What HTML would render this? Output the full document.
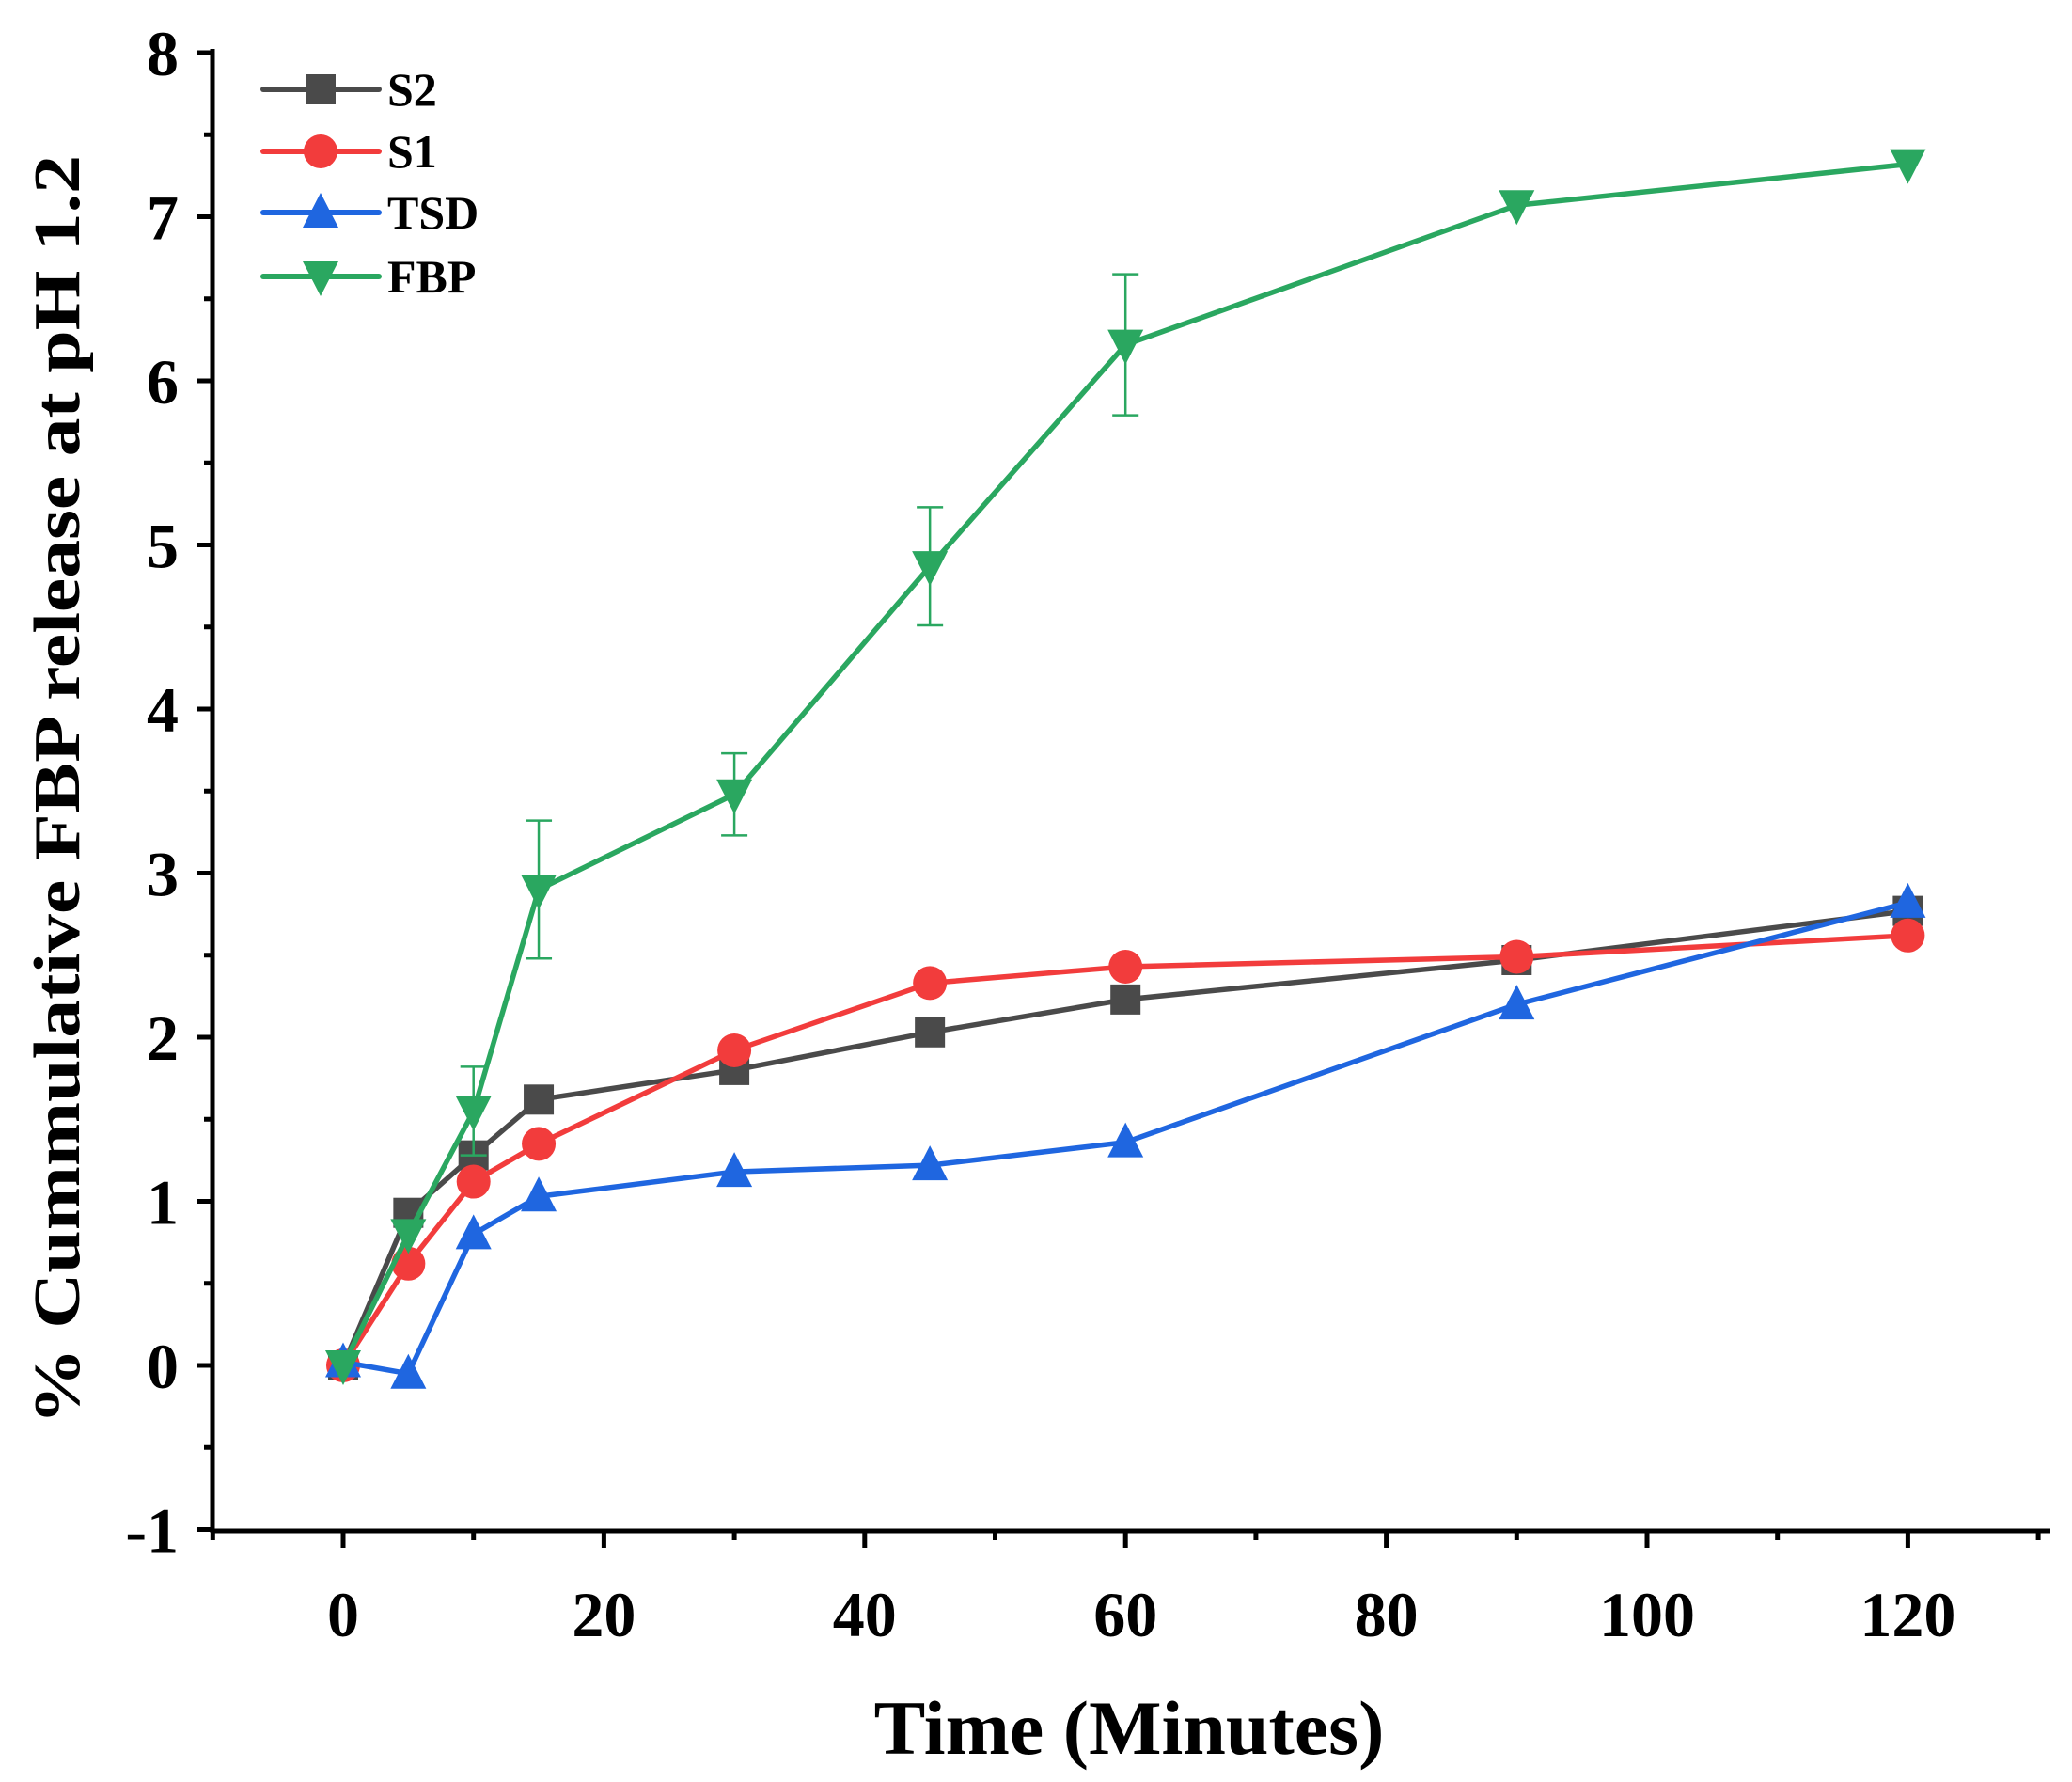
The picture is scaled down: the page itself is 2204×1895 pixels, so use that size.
<!DOCTYPE html>
<html><head><meta charset="utf-8">
<style>html,body{margin:0;padding:0;background:#fff;}svg{display:block;}</style>
</head><body>
<svg id="c" width="2204" height="1895" viewBox="0 0 2204 1895" xmlns="http://www.w3.org/2000/svg" font-family="'Liberation Serif', serif" font-weight="bold"></svg>
<script>
const X0=226, X1=2181, Y0=1628, YT=54;
const xs=v=>365+v*13.87, ys=v=>1452-v*174.5;
let s='';
s+=`<line x1="${X0}" y1="${YT-2}" x2="${X0}" y2="${Y0+2}" stroke="#000" stroke-width="5"/>`;
s+=`<line x1="${X0-2}" y1="${Y0}" x2="${X1}" y2="${Y0}" stroke="#000" stroke-width="5"/>`;
for(let v=-1;v<=8;v++){s+=`<line x1="${X0-16}" y1="${ys(v)}" x2="${X0}" y2="${ys(v)}" stroke="#000" stroke-width="5"/>`;
 s+=`<text x="${X0-36}" y="${ys(v)+24}" font-size="68" text-anchor="end">${v}</text>`;}
for(let v=-0.5;v<8;v+=1){s+=`<line x1="${X0-9}" y1="${ys(v)}" x2="${X0}" y2="${ys(v)}" stroke="#000" stroke-width="5"/>`;}
for(let v=-10;v<=130;v+=10){const maj=v%20==0;s+=`<line x1="${xs(v)}" y1="${Y0}" x2="${xs(v)}" y2="${Y0+(maj?18:10)}" stroke="#000" stroke-width="5"/>`;
 if(maj&&v>=0&&v<=120)s+=`<text x="${xs(v)}" y="1740" font-size="68" text-anchor="middle">${v}</text>`;}
s+=`<text x="1201" y="1865" font-size="82" text-anchor="middle">Time (Minutes)</text>`;
s+=`<text transform="translate(84,840) rotate(-90)" font-size="70" text-anchor="middle" textLength="1350" lengthAdjust="spacingAndGlyphs">% Cummulative FBP release at pH 1.2</text>`;
const t=[0,5,10,15,30,45,60,90,120];
const S=[
 ['#4a4a4a','sq',[0,0.93,1.28,1.62,1.8,2.03,2.23,2.47,2.77]],
 ['#f23c3c','ci',[0,0.62,1.12,1.35,1.92,2.33,2.43,2.49,2.62]],
 ['#1f66e0','up',[0.02,-0.05,0.8,1.03,1.18,1.22,1.36,2.2,2.82]],
 ['#2aa760','dn',[0,0.8,1.55,2.9,3.48,4.87,6.22,7.07,7.32]]];
const err={10:0.27,15:0.42,30:0.25,45:0.36,60:0.43};
function mk(type,x,y,c){const r=18;
 if(type=='sq')return `<rect x="${x-r+2}" y="${y-r+2}" width="${2*r-4}" height="${2*r-4}" fill="${c}"/>`;
 if(type=='ci')return `<circle cx="${x}" cy="${y}" r="${r}" fill="${c}"/>`;
 if(type=='up')return `<polygon points="${x},${y-r-3} ${x+r+1},${y+r-2} ${x-r-1},${y+r-2}" fill="${c}"/>`;
 return `<polygon points="${x},${y+r+3} ${x+r+1},${y-r+2} ${x-r-1},${y-r+2}" fill="${c}"/>`;}
for(const [c,type,d] of S){
 if(type=='dn'){for(const k in err){const x=xs(+k),i=t.indexOf(+k),a=ys(d[i]+err[k]),b=ys(d[i]-err[k]);
  s+=`<line x1="${x}" y1="${a}" x2="${x}" y2="${b}" stroke="${c}" stroke-width="2.5"/><line x1="${x-14}" y1="${a}" x2="${x+14}" y2="${a}" stroke="${c}" stroke-width="2.5"/><line x1="${x-14}" y1="${b}" x2="${x+14}" y2="${b}" stroke="${c}" stroke-width="2.5"/>`;}}
 s+=`<polyline fill="none" stroke="${c}" stroke-width="5.5" stroke-linejoin="round" points="${t.map((v,i)=>xs(v)+','+ys(d[i])).join(' ')}"/>`;
 t.forEach((v,i)=>s+=mk(type,xs(v),ys(d[i]),c));
}
const names=['S2','S1','TSD','FBP'], ly=[95,161,226,294];
S.forEach(([c,type],i)=>{s+=`<line x1="280" y1="${ly[i]}" x2="403" y2="${ly[i]}" stroke="${c}" stroke-width="6" stroke-linecap="round"/>`+mk(type,341,ly[i],c)+`<text x="412" y="${ly[i]+17}" font-size="50">${names[i]}</text>`;});
document.getElementById('c').innerHTML=s;
</script>
</body></html>
